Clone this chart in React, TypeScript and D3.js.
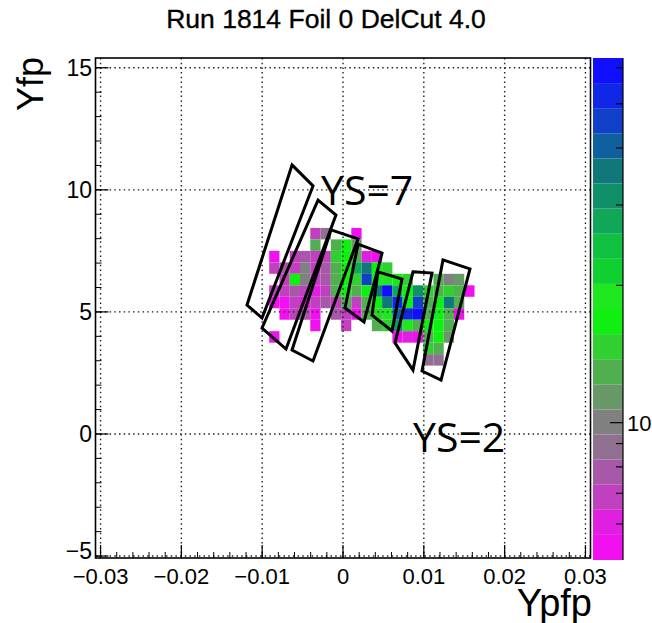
import React from 'react';
import * as d3 from 'd3';

// ---------- data ----------
const chartTitle = 'Run 1814 Foil 0 DelCut 4.0';
const xAxisTitle = 'Ypfp';
const yAxisTitle = 'Yfp';
const xTickValues = [-0.03, -0.02, -0.01, 0, 0.01, 0.02, 0.03];
const xTickLabels = ['\u22120.03', '\u22120.02', '\u22120.01', '0', '0.01', '0.02', '0.03'];
const yTickValues = [-5, 0, 5, 10, 15];
const yTickLabels = ['\u22125', '0', '5', '10', '15'];
const zTickValues = [6, 7, 8, 9, 10, 20, 30, 40, 50, 60];
const zLabelValues = [10];
const xRange = [-0.030625, 0.030625];
const yRange = [-5.08, 15.4];
const zRange = [5, 63];

// histogram binning (bin edges)
const xBinLow = -0.00913;
const xBinWidth = 0.00127;
const yBinHigh = 8.44;
const yBinHeight = 0.47;

// counts, rows from top (Yfp ~8.4) downwards, 20 Ypfp columns
const counts: number[][] = [
  [0, 0, 0, 0, 7, 9, 0, 0, 5, 0, 0, 0, 0, 0, 0, 0, 0, 0, 0, 0],
  [0, 0, 0, 0, 13, 0, 13, 17, 11, 0, 0, 0, 0, 0, 0, 0, 0, 0, 0, 0],
  [5, 0, 7, 8, 7, 7, 15, 17, 13, 6, 5, 0, 0, 0, 0, 0, 0, 0, 0, 0],
  [7, 8, 7, 10, 7, 8, 13, 17, 28, 34, 17, 15, 0, 0, 0, 0, 0, 0, 0, 0],
  [0, 7, 17, 10, 7, 8, 13, 17, 15, 46, 19, 19, 17, 15, 0, 0, 13, 10, 11, 0],
  [7, 7, 8, 7, 6, 7, 13, 17, 13, 17, 34, 60, 28, 17, 32, 15, 13, 15, 13, 5],
  [5, 5, 7, 6, 7, 8, 7, 13, 7, 13, 17, 36, 52, 17, 46, 13, 17, 34, 13, 0],
  [0, 5, 7, 8, 5, 0, 8, 7, 5, 13, 15, 19, 40, 52, 56, 13, 17, 13, 5, 0],
  [0, 0, 0, 0, 5, 0, 0, 7, 0, 0, 13, 15, 32, 19, 13, 17, 17, 13, 0, 0],
  [5, 0, 0, 0, 0, 0, 0, 0, 0, 0, 0, 0, 5, 6, 5, 13, 17, 11, 0, 0],
  [0, 0, 0, 0, 0, 0, 0, 0, 0, 0, 0, 0, 0, 0, 0, 15, 13, 0, 0, 0],
  [0, 0, 0, 0, 0, 0, 0, 0, 0, 0, 0, 0, 0, 0, 0, 9, 9, 0, 0, 0],
];

// palette, lowest level first
const paletteColors = [
  '#f010f0', '#e020e0', '#c040c0', '#a858a8', '#907090',
  '#808080', '#689868', '#50b050', '#30d030', '#10f010',
  '#20e820', '#10d030', '#10c040', '#10a858', '#109068',
  '#107878', '#1060a0', '#1040c8', '#1028e6', '#1010ff',
];

// sieve-slot contours (Ypfp, Yfp)
const slotPolygons: [number, number][][] = [
  [[-0.00631, 11.02], [-0.00371, 10.16], [-0.01002, 4.75], [-0.01188, 5.28]],
  [[-0.00309, 9.58], [-0.00087, 8.97], [-0.00705, 3.48], [-0.01002, 4.34]],
  [[-0.00148, 8.36], [0.00186, 7.99], [-0.00371, 2.99], [-0.00631, 3.44]],
  [[0.00186, 7.78], [0.00483, 7.41], [0.0026, 4.59], [0.00025, 5.16]],
  [[0.00433, 6.64], [0.0073, 6.35], [0.00606, 4.22], [0.00359, 4.87]],
  [[0.00866, 6.64], [0.01101, 6.59], [0.00866, 2.62], [0.00643, 3.73]],
  [[0.01237, 7.13], [0.01571, 6.76], [0.01213, 2.21], [0.00978, 2.58]],
];

const annotationTexts = ['YS=7', 'YS=2'];
const annotationX = [-0.00272, 0.00866];
const annotationY = [9.38, -0.74];

export default function App() {
  const W = 652;
  const H = 623;
  const frame = { left: 95.5, right: 590.5, top: 58, bottom: 558 };
  const pal = { left: 593, right: 623, top: 58, bottom: 560 };

  const x = d3.scaleLinear().domain(xRange).range([frame.left, frame.right]);
  const y = d3.scaleLinear().domain(yRange).range([frame.bottom, frame.top]);
  const z = d3.scaleLog().domain(zRange).range([pal.bottom, pal.top]);
  const levelOf = d3.scaleLog().domain(zRange).range([0, paletteColors.length]);
  const bandY = d3.scaleLinear().domain([0, paletteColors.length]).range([pal.bottom, pal.top]);
  const colorOf = (v: number) =>
    paletteColors[Math.max(0, Math.min(paletteColors.length - 1, Math.floor(levelOf(v))))];

  const cells: { x0: number; x1: number; y0: number; y1: number; v: number }[] = [];
  counts.forEach((row, r) =>
    row.forEach((v, c) => {
      if (v <= 0) return;
      const lx = xBinLow + c * xBinWidth;
      const hy = yBinHigh - r * yBinHeight;
      cells.push({ x0: lx, x1: lx + xBinWidth, y0: hy - yBinHeight, y1: hy, v });
    })
  );

  const xMinor = d3.range(-0.03, 0.0301, 0.002);
  const yMinor = d3.range(-5, 15.01, 1);
  const line = d3.line<[number, number]>().x((d) => x(d[0])).y((d) => y(d[1]));

  const font = 'Liberation Sans, Arial, Helvetica, sans-serif';

  return (
    <svg
      width={W}
      height={H}
      style={{ position: 'absolute', left: 0, top: 0, background: '#fff' }}
    >
      <rect x={0} y={0} width={W} height={H} fill="#fff" />
      <text x={326} y={28} textAnchor="middle" fontFamily={font} fontSize={26.5}
        fill="#000" stroke="#000" strokeWidth={0.35}>
        {chartTitle}
      </text>

      {/* histogram cells */}
      {cells.map((d, i) => (
        <rect
          key={i}
          x={x(d.x0)}
          y={y(d.y1)}
          width={x(d.x1) - x(d.x0)}
          height={y(d.y0) - y(d.y1)}
          fill={colorOf(d.v)}
        />
      ))}

      {/* grid */}
      {xTickValues.map((v, i) => (
        <line key={'gx' + i} x1={x(v)} x2={x(v)} y1={frame.top} y2={frame.bottom}
          stroke="#222" strokeWidth={1.4} strokeDasharray="1.5,3.2" />
      ))}
      {yTickValues.map((v, i) => (
        <line key={'gy' + i} x1={frame.left} x2={frame.right} y1={y(v)} y2={y(v)}
          stroke="#222" strokeWidth={1.4} strokeDasharray="1.5,3.2" />
      ))}

      {/* slot contours */}
      {slotPolygons.map((p, i) => (
        <path key={'p' + i} d={line(p) + 'Z'} fill="none" stroke="#000" strokeWidth={3} strokeLinejoin="miter" />
      ))}

      {/* frame */}
      <rect x={frame.left} y={frame.top} width={frame.right - frame.left} height={frame.bottom - frame.top}
        fill="none" stroke="#000" strokeWidth={1.6} />

      {/* x ticks */}
      {xMinor.map((v, i) => (
        <line key={'xm' + i} x1={x(v)} x2={x(v)} y1={frame.bottom} y2={frame.bottom - 6} stroke="#000" strokeWidth={1} />
      ))}
      {xTickValues.map((v, i) => (
        <line key={'xM' + i} x1={x(v)} x2={x(v)} y1={frame.bottom} y2={frame.bottom - 13} stroke="#000" strokeWidth={1.2} />
      ))}
      {xTickValues.map((v, i) => (
        <text key={'xl' + i} x={x(v)} y={584} textAnchor="middle" fontFamily={font} fontSize={22} fill="#000">
          {xTickLabels[i]}
        </text>
      ))}

      {/* y ticks */}
      {yMinor.map((v, i) => (
        <line key={'ym' + i} x1={frame.left} x2={frame.left + 6} y1={y(v)} y2={y(v)} stroke="#000" strokeWidth={1} />
      ))}
      {yTickValues.map((v, i) => (
        <line key={'yM' + i} x1={frame.left} x2={frame.left + 13} y1={y(v)} y2={y(v)} stroke="#000" strokeWidth={1.2} />
      ))}
      {yTickValues.map((v, i) => (
        <text key={'yl' + i} x={92} y={Math.min(y(v) + 8, 559)} textAnchor="end" fontFamily={font} fontSize={23} fill="#000">
          {yTickLabels[i]}
        </text>
      ))}

      {/* axis titles */}
      <text x={592} y={616} textAnchor="end" fontFamily={font} fontSize={38} fill="#000">
        {xAxisTitle}
      </text>
      <text transform="translate(43,57) rotate(-90)" textAnchor="end" fontFamily={font} fontSize={36} fill="#000">
        {yAxisTitle}
      </text>

      {/* palette */}
      {paletteColors.map((c, i) => (
        <rect key={'pc' + i} x={pal.left} y={bandY(i + 1)} width={pal.right - pal.left}
          height={bandY(i) - bandY(i + 1)} fill={c} />
      ))}
      <line x1={pal.right} x2={pal.right} y1={pal.top} y2={pal.bottom} stroke="#000" strokeWidth={1.2} />
      {zTickValues.map((v, i) => (
        <line key={'zt' + i} x1={pal.right} x2={pal.right - (zLabelValues.includes(v) ? 13 : 7)}
          y1={z(v)} y2={z(v)} stroke="#000" strokeWidth={1.2} />
      ))}
      {zLabelValues.map((v, i) => (
        <text key={'zl' + i} x={pal.right + 4} y={z(v) + 8} fontFamily={font} fontSize={22} fill="#000">
          {String(v)}
        </text>
      ))}

      {/* annotations */}
      {annotationTexts.map((t, i) => (
        <text key={'an' + i} x={x(annotationX[i])} y={y(annotationY[i])} fontFamily="Open Sans, sans-serif"
          fontSize={41} fill="#000">
          {t}
        </text>
      ))}
    </svg>
  );
}
